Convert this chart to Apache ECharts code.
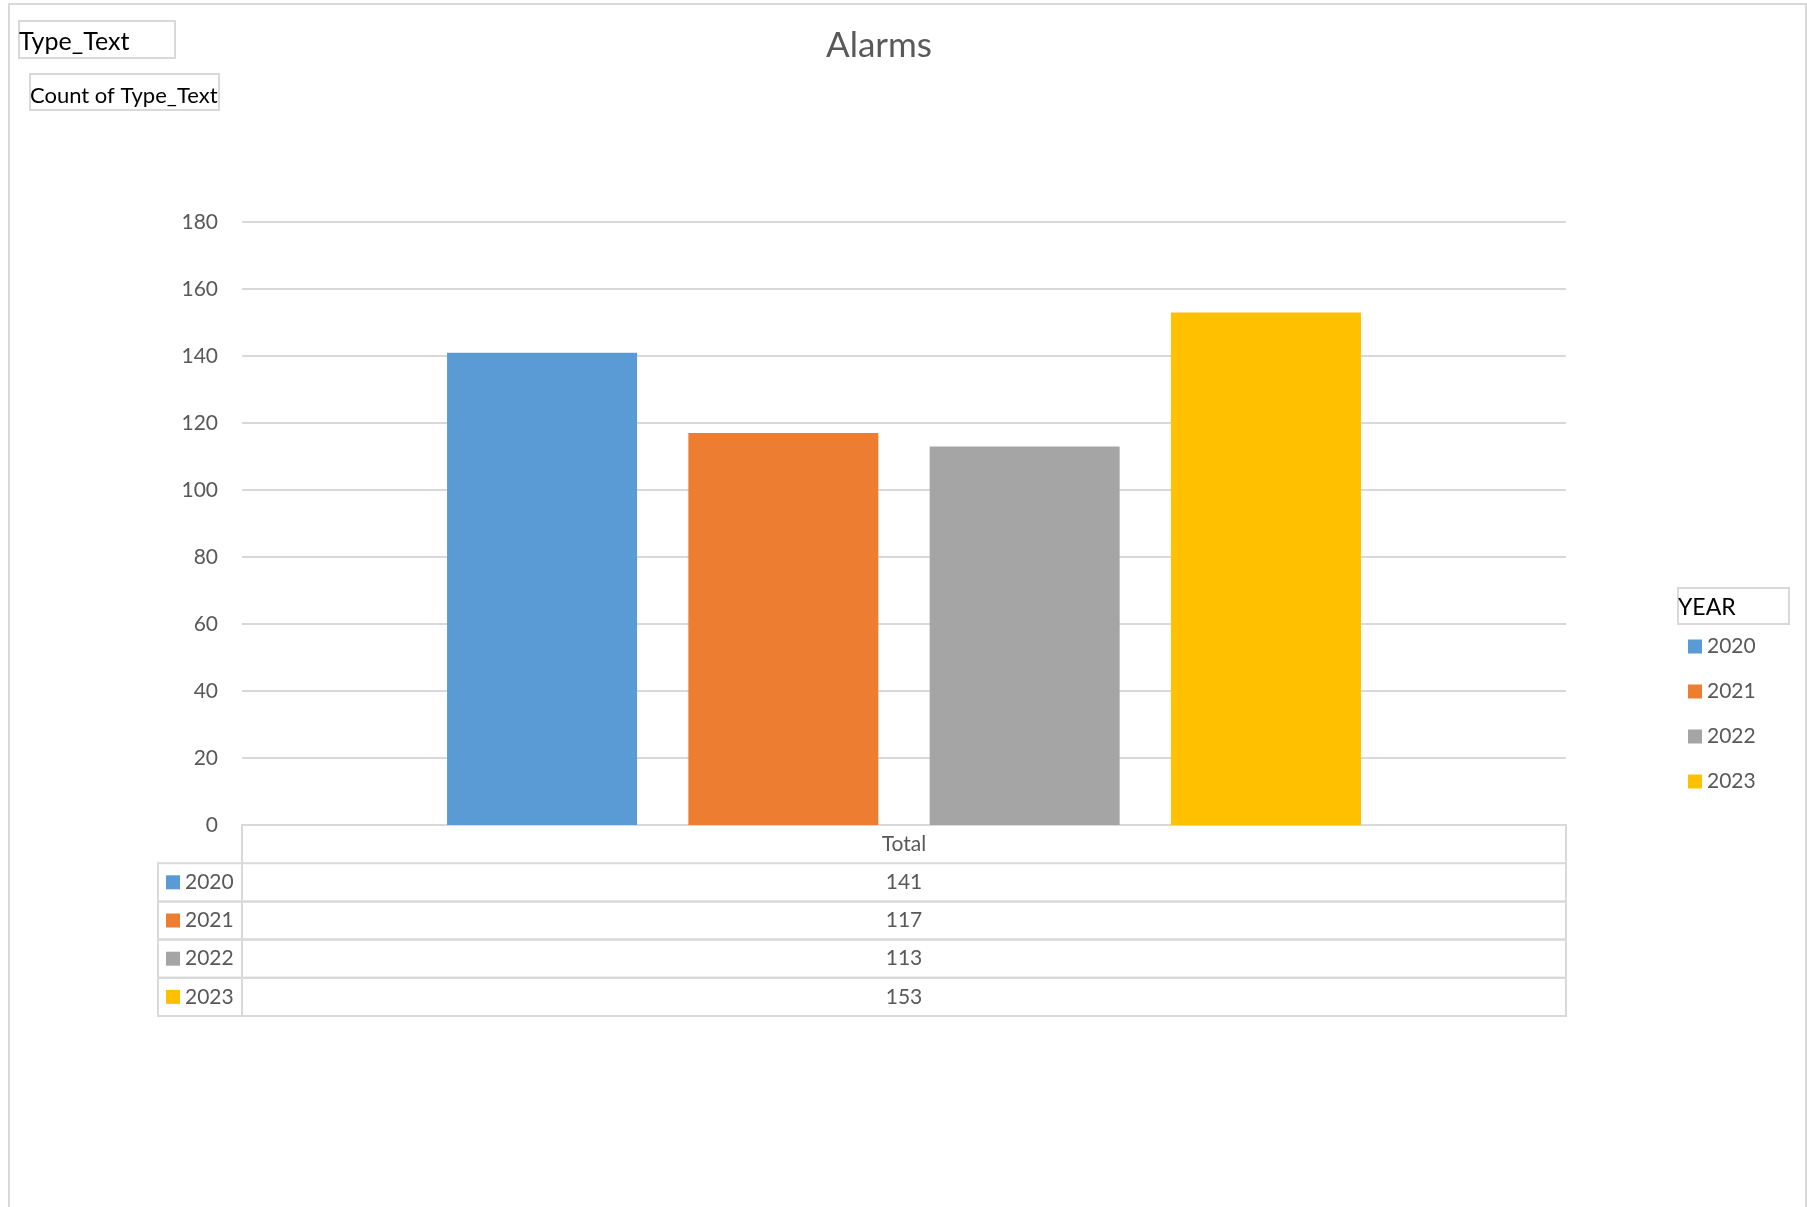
<!DOCTYPE html>
<html>
<head>
<meta charset="utf-8">
<title>Alarms</title>
<script src="https://cdn.jsdelivr.net/npm/echarts@6/dist/echarts.min.js"></script>
<style>
  html, body { margin: 0; padding: 0; background: #fff; }
  #main { width: 1807px; height: 1207px; }
</style>
</head>
<body>
<div id="main"></div>
<script>
// data
var categories = ["Total"];
var years = ["2020", "2021", "2022", "2023"];
var counts = [141, 117, 113, 153];
var colors = ["#5B9BD5", "#ED7D31", "#A5A5A5", "#FFC000"];
var yTicks = { min: 0, max: 180, interval: 20 };

// layout of the plot + data table below it
var gridLeft = 242, gridRight = 1566, gridTop = 222, gridBottom = 825;
var tableLeft = 158;
var rowH = 38.2;
var lineColor = "#d9d9d9";
var textColor = "#595959";
var font = "Lato, 'Open Sans', sans-serif";

var myChart = echarts.init(document.getElementById("main"));

var series = years.map(function (y, i) {
  return {
    name: y,
    type: "bar",
    data: [counts[i]],
    barWidth: 190,
    barGap: "27%",
    itemStyle: { color: colors[i] }
  };
});

// graphic: border, boxes, data table
var graphic = [
  { type: "rect", shape: { x: 9, y: 4, width: 1797, height: 1240 },
    style: { fill: "none", stroke: lineColor, lineWidth: 2 } },
  { type: "rect", shape: { x: 19, y: 21, width: 156, height: 37 },
    style: { fill: "none", stroke: lineColor, lineWidth: 2 } },
  { type: "text", x: 19, y: 42,
    style: { text: "Type_Text", font: "25px " + font, fill: "#000", verticalAlign: "middle" } },
  { type: "rect", shape: { x: 30, y: 74, width: 189, height: 36 },
    style: { fill: "none", stroke: lineColor, lineWidth: 2 } },
  { type: "text", x: 30, y: 96,
    style: { text: "Count of Type_Text", font: "22px " + font, fill: "#000", verticalAlign: "middle" } },
  { type: "rect", shape: { x: 1678, y: 588, width: 111, height: 36 },
    style: { fill: "none", stroke: lineColor, lineWidth: 2 } },
  { type: "text", x: 1678, y: 608,
    style: { text: "YEAR", font: "23px " + font, fill: "#000", verticalAlign: "middle" } },
  // header cell
  { type: "polyline", shape: { points: [[gridLeft, gridBottom + rowH], [gridLeft, gridBottom], [gridRight, gridBottom], [gridRight, gridBottom + rowH]] },
    style: { fill: "none", stroke: lineColor, lineWidth: 2 } }
];
categories.forEach(function (c) {
  graphic.push({ type: "text", x: (gridLeft + gridRight) / 2, y: gridBottom + rowH / 2,
    style: { text: c, font: "21px " + font, fill: textColor, align: "center", verticalAlign: "middle" } });
});
years.forEach(function (y, i) {
  var top = gridBottom + rowH * (i + 1);
  graphic.push({ type: "rect", shape: { x: tableLeft, y: top, width: gridRight - tableLeft, height: rowH },
    style: { fill: "none", stroke: lineColor, lineWidth: 2 } });
  graphic.push({ type: "line", shape: { x1: gridLeft, y1: top, x2: gridLeft, y2: top + rowH },
    style: { stroke: lineColor, lineWidth: 2 } });
  graphic.push({ type: "rect", shape: { x: 166, y: top + rowH / 2 - 7, width: 14, height: 14 },
    style: { fill: colors[i] } });
  graphic.push({ type: "text", x: 185, y: top + rowH / 2,
    style: { text: y, font: "21px " + font, fill: textColor, verticalAlign: "middle" } });
  graphic.push({ type: "text", x: (gridLeft + gridRight) / 2, y: top + rowH / 2,
    style: { text: String(counts[i]), font: "21px " + font, fill: textColor, align: "center", verticalAlign: "middle" } });
});

var option = {
  animation: false,
  color: colors,
  title: {
    text: "Alarms",
    left: 874,
    top: 23,
    textAlign: "center",
    textStyle: { fontFamily: font, fontSize: 35, fontWeight: "normal", color: textColor }
  },
  legend: {
    orient: "vertical",
    left: 1688,
    top: 636,
    padding: 0,
    icon: "rect",
    itemWidth: 14,
    itemHeight: 14,
    itemGap: 24,
    data: years,
    textStyle: { fontFamily: font, fontSize: 21, lineHeight: 20, color: textColor }
  },
  grid: {
    left: gridLeft,
    right: 1807 - gridRight,
    top: gridTop,
    bottom: 1207 - gridBottom
  },
  xAxis: {
    type: "category",
    data: categories,
    axisLine: { show: false },
    axisTick: { show: false },
    axisLabel: { show: false }
  },
  yAxis: {
    type: "value",
    min: yTicks.min,
    max: yTicks.max,
    interval: yTicks.interval,
    axisLine: { show: false },
    axisTick: { show: false },
    axisLabel: { margin: 24, fontFamily: font, fontSize: 21, color: textColor },
    splitLine: { lineStyle: { color: lineColor, width: 2 } }
  },
  graphic: graphic,
  series: series
};
myChart.setOption(option);
</script>
</body>
</html>
